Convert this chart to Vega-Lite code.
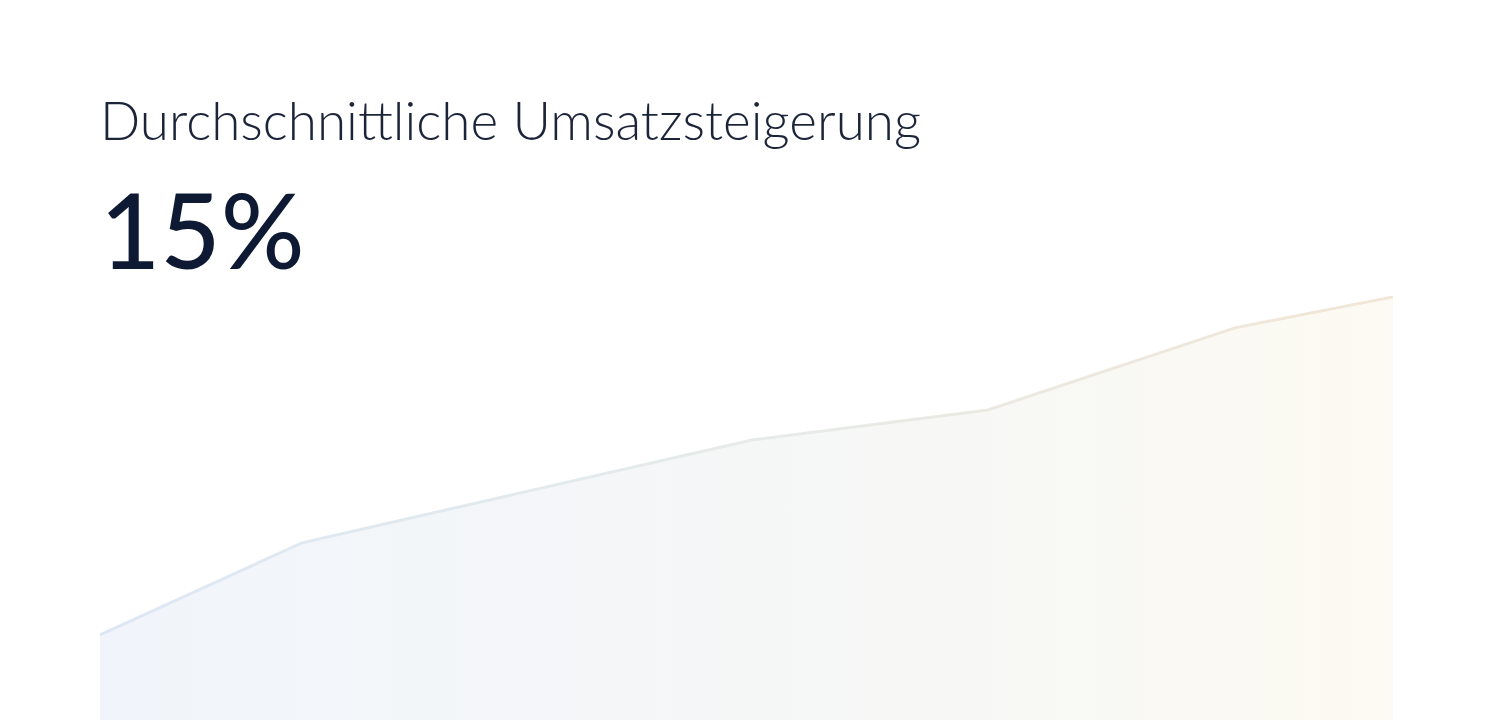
{
  "$schema": "https://vega.github.io/schema/vega-lite/v6.json",
  "width": 1293,
  "height": 430,
  "autosize": {"type": "none"},
  "padding": {"left": 100, "right": 107, "top": 290, "bottom": 5},
  "background": "white",
  "title": {
    "text": "Durchschnittliche Umsatzsteigerung",
    "subtitle": "15%",
    "anchor": "start",
    "frame": "group",
    "orient": "top",
    "offset": 0,
    "font": "Lato",
    "fontSize": 53,
    "fontWeight": 300,
    "color": "#1b2439",
    "subtitleFont": "Lato",
    "subtitleFontSize": 104,
    "subtitleFontWeight": 500,
    "subtitleColor": "#0e1a33",
    "subtitlePadding": 36
  },
  "data": {
    "values": [
      {"monat": 0, "umsatz": 19.8},
      {"monat": 202, "umsatz": 41.2},
      {"monat": 652, "umsatz": 65.1},
      {"monat": 888, "umsatz": 72.1},
      {"monat": 1135, "umsatz": 91.2},
      {"monat": 1293, "umsatz": 98.4}
    ]
  },
  "encoding": {
    "x": {"field": "monat", "type": "quantitative", "scale": {"domain": [0, 1293], "nice": false}, "axis": null},
    "y": {"field": "umsatz", "type": "quantitative", "scale": {"domain": [0, 100], "nice": false}, "axis": null}
  },
  "layer": [
    {
      "mark": {
        "type": "area",
        "color": {
          "gradient": "linear",
          "x1": 0, "y1": 0, "x2": 1, "y2": 0,
          "stops": [
            {"offset": 0, "color": "#f1f5fb"},
            {"offset": 0.5, "color": "#f5f7f7"},
            {"offset": 1, "color": "#fcfaf2"}
          ]
        }
      }
    },
    {
      "mark": {
        "type": "line",
        "strokeWidth": 3,
        "color": {
          "gradient": "linear",
          "x1": 0, "y1": 0, "x2": 1, "y2": 0,
          "stops": [
            {"offset": 0, "color": "#dde7f4"},
            {"offset": 0.5, "color": "#e6ebe9"},
            {"offset": 1, "color": "#f2e6d6"}
          ]
        }
      }
    }
  ],
  "config": {"view": {"stroke": null}}
}
